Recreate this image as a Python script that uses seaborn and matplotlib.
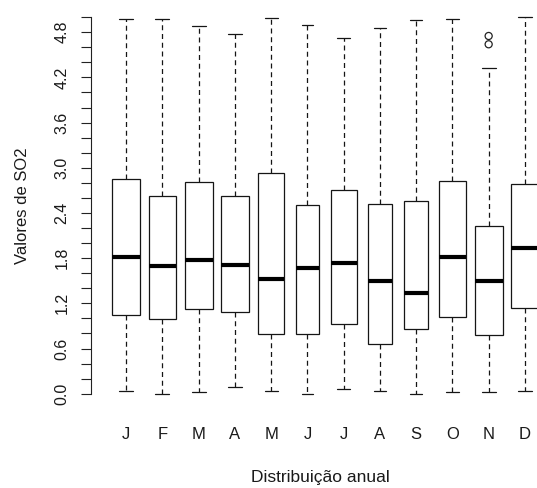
import numpy as np
import pandas as pd
import matplotlib
matplotlib.use('Agg')
import matplotlib.pyplot as plt
import seaborn as sns


# ---------------- SO2 por mes: boxplot ---------------- #
months = ['J', 'F', 'M', 'A', 'M', 'J', 'J', 'A', 'S', 'O', 'N', 'D']

# five-number summary
whisker_low = [0.04, 0.00, 0.02, 0.09, 0.04, 0.00, 0.06, 0.04, 0.00, 0.02, 0.02, 0.04]
q1 = [1.05, 0.99, 1.13, 1.08, 0.79, 0.79, 0.92, 0.66, 0.86, 1.02, 0.78, 1.14]
median = [1.81, 1.69, 1.77, 1.71, 1.53, 1.67, 1.73, 1.50, 1.34, 1.82, 1.50, 1.93]
q3 = [2.85, 2.62, 2.81, 2.62, 2.93, 2.51, 2.71, 2.52, 2.56, 2.82, 2.23, 2.78]
whisker_high = [4.97, 4.97, 4.88, 4.78, 4.99, 4.90, 4.72, 4.85, 4.96, 4.97, 4.33, 5.00]

# outliers (only November has them)
outlier_month = [10, 10]
outlier_value = [4.64, 4.75]

# box widths differ per month (varwidth look)
box_width = [0.77, 0.77, 0.77, 0.75, 0.72, 0.64, 0.72, 0.68, 0.67, 0.75, 0.77, 0.77]

rows = []
for i in range(len(months)):
    for v in (whisker_low[i], q1[i], median[i], q3[i], whisker_high[i]):
        rows.append({'pos': i, 'value': v})
df = pd.DataFrame(rows)

sns.set_theme(style='ticks')
plt.rcParams['font.family'] = ['Liberation Sans', 'DejaVu Sans']

fig = plt.figure(figsize=(5.37, 4.88), dpi=100)
ax = fig.add_axes([0.1689, 0.1623, 0.8311, 0.8334])

for i in range(len(months)):
    sns.boxplot(data=df[df.pos == i], x='pos', y='value',
                orient='x', native_scale=True,
                width=box_width[i],
                whis=(0, 100),
                color='white', linecolor='#151515', linewidth=0.9,
                fliersize=0,
                whiskerprops={'linestyle': (0, (4, 3))},
                medianprops={'linewidth': 3.0, 'color': 'black'},
                ax=ax)

sns.scatterplot(x=outlier_month, y=outlier_value, marker='o', s=26,
                facecolor='none', edgecolor='#222222', linewidth=0.9,
                ax=ax, zorder=4)

ax.set(xlim=(-0.98, 11.334), ylim=(-0.2, 5.2))

ax.set_xticks(range(len(months)))
ax.set_xticklabels(months, fontsize=12, color='#1a1a1a')
ax.tick_params(axis='x', length=0, pad=13)

ax.set_yticks(np.arange(0, 4.81, 0.6))
ax.set_yticklabels([f'{v:.1f}' for v in np.arange(0, 4.81, 0.6)],
                   fontsize=11.5, color='#1a1a1a', rotation=90, va='center')
ax.set_yticks(np.arange(0, 5.01, 0.2), minor=True)
ax.tick_params(axis='y', which='both', length=7.2, width=0.8,
               color='#222222', direction='out', pad=8)

for side in ('top', 'right', 'bottom'):
    ax.spines[side].set_visible(False)
ax.spines['left'].set_bounds(0, 5.0)
ax.spines['left'].set_linewidth(0.8)
ax.spines['left'].set_color('#222222')

ax.set_xlabel('Distribuição anual', fontsize=12.5, color='#1a1a1a')
ax.xaxis.label.set_va('baseline')
ax.xaxis.set_label_coords(0.515, -0.181)

ax.set_ylabel('Valores de SO2', fontsize=12, color='#1a1a1a')
ax.yaxis.set_label_coords(-0.136, 0.5)

fig.savefig('out.png', dpi=100)
